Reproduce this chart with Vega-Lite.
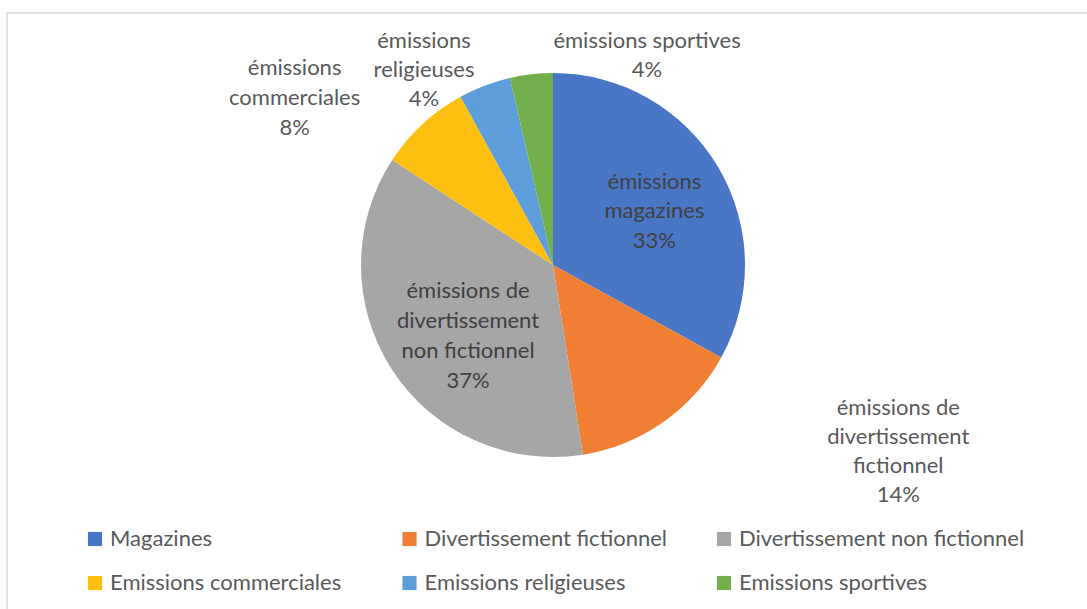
{
  "$schema": "https://vega.github.io/schema/vega-lite/v6.json",
  "width": 1092,
  "height": 620,
  "autosize": "none",
  "padding": {"left": 7, "top": 13, "right": 0, "bottom": 0},
  "background": "white",
  "config": {
    "view": {"stroke": "#d9d9d9", "strokeWidth": 1.5},
    "font": "Lato",
    "legend": {
      "orient": "none",
      "legendX": 77,
      "legendY": 515,
      "columns": 3,
      "direction": "horizontal",
      "gridAlign": "all",
      "columnPadding": 2.5,
      "rowPadding": 22,
      "symbolType": "square",
      "symbolSize": 200,
      "symbolStrokeWidth": 0,
      "labelFontSize": 22,
      "labelFont": "Lato",
      "labelColor": "#595959",
      "labelOffset": 4,
      "labelLimit": 500,
      "title": null
    }
  },
  "data": {
    "values": [
      {"rang": 1, "categorie": "Magazines", "part": 33.0, "etiquette": "émissions\nmagazines\n33%"},
      {"rang": 2, "categorie": "Divertissement fictionnel", "part": 14.5, "etiquette": "émissions de\ndivertissement\nfictionnel\n14%"},
      {"rang": 3, "categorie": "Divertissement non fictionnel", "part": 36.7, "etiquette": "émissions de\ndivertissement\nnon fictionnel\n37%"},
      {"rang": 4, "categorie": "Emissions commerciales", "part": 7.8, "etiquette": "émissions\ncommerciales\n8%"},
      {"rang": 5, "categorie": "Emissions religieuses", "part": 4.4, "etiquette": "émissions\nreligieuses\n4%"},
      {"rang": 6, "categorie": "Emissions sportives", "part": 3.6, "etiquette": "émissions sportives\n4%"}
    ]
  },
  "encoding": {
    "theta": {"field": "part", "type": "quantitative", "stack": true},
    "order": {"field": "rang", "type": "quantitative"},
    "y": {"value": 252}
  },
  "layer": [
    {
      "mark": {"type": "arc", "outerRadius": 192},
      "encoding": {
        "color": {
          "field": "categorie",
          "type": "nominal",
          "sort": null,
          "scale": {
            "domain": ["Magazines", "Divertissement fictionnel", "Divertissement non fictionnel", "Emissions commerciales", "Emissions religieuses", "Emissions sportives"],
            "range": ["#4a76c6", "#f07f34", "#a6a6a6", "#fdc010", "#5d9dd9", "#72ae4b"]
          }
        }
      }
    },
    {
      "mark": {"type": "text", "radius": 112, "dx": 5, "dy": -26, "fontSize": 22, "lineHeight": 29.5, "lineBreak": "\n", "fill": "#404040", "align": "center", "baseline": "middle"},
      "encoding": {
        "detail": {"field": "categorie", "type": "nominal"},
        "text": {"condition": {"test": "datum.categorie === 'Magazines'", "field": "etiquette", "type": "nominal"}, "value": ""}
      }
    },
    {
      "mark": {"type": "text", "radius": 112, "dx": 9, "dy": -35, "fontSize": 22, "lineHeight": 30, "lineBreak": "\n", "fill": "#404040", "align": "center", "baseline": "middle"},
      "encoding": {
        "detail": {"field": "categorie", "type": "nominal"},
        "text": {"condition": {"test": "datum.categorie === 'Divertissement non fictionnel'", "field": "etiquette", "type": "nominal"}, "value": ""}
      }
    },
    {
      "mark": {"type": "text", "radius": 230, "dx": 213, "dy": -45, "fontSize": 22, "lineHeight": 29, "lineBreak": "\n", "fill": "#595959", "align": "center", "baseline": "middle"},
      "encoding": {
        "detail": {"field": "categorie", "type": "nominal"},
        "text": {"condition": {"test": "datum.categorie === 'Divertissement fictionnel'", "field": "etiquette", "type": "nominal"}, "value": ""}
      }
    },
    {
      "mark": {"type": "text", "radius": 230, "dx": -102, "dy": -28, "fontSize": 22, "lineHeight": 30, "lineBreak": "\n", "fill": "#595959", "align": "center", "baseline": "middle"},
      "encoding": {
        "detail": {"field": "categorie", "type": "nominal"},
        "text": {"condition": {"test": "datum.categorie === 'Emissions commerciales'", "field": "etiquette", "type": "nominal"}, "value": ""}
      }
    },
    {
      "mark": {"type": "text", "radius": 230, "dx": -47, "dy": -9, "fontSize": 22, "lineHeight": 29, "lineBreak": "\n", "fill": "#595959", "align": "center", "baseline": "middle"},
      "encoding": {
        "detail": {"field": "categorie", "type": "nominal"},
        "text": {"condition": {"test": "datum.categorie === 'Emissions religieuses'", "field": "etiquette", "type": "nominal"}, "value": ""}
      }
    },
    {
      "mark": {"type": "text", "radius": 230, "dx": 120, "dy": 5, "fontSize": 22, "lineHeight": 29, "lineBreak": "\n", "fill": "#595959", "align": "center", "baseline": "middle"},
      "encoding": {
        "detail": {"field": "categorie", "type": "nominal"},
        "text": {"condition": {"test": "datum.categorie === 'Emissions sportives'", "field": "etiquette", "type": "nominal"}, "value": ""}
      }
    }
  ]
}
